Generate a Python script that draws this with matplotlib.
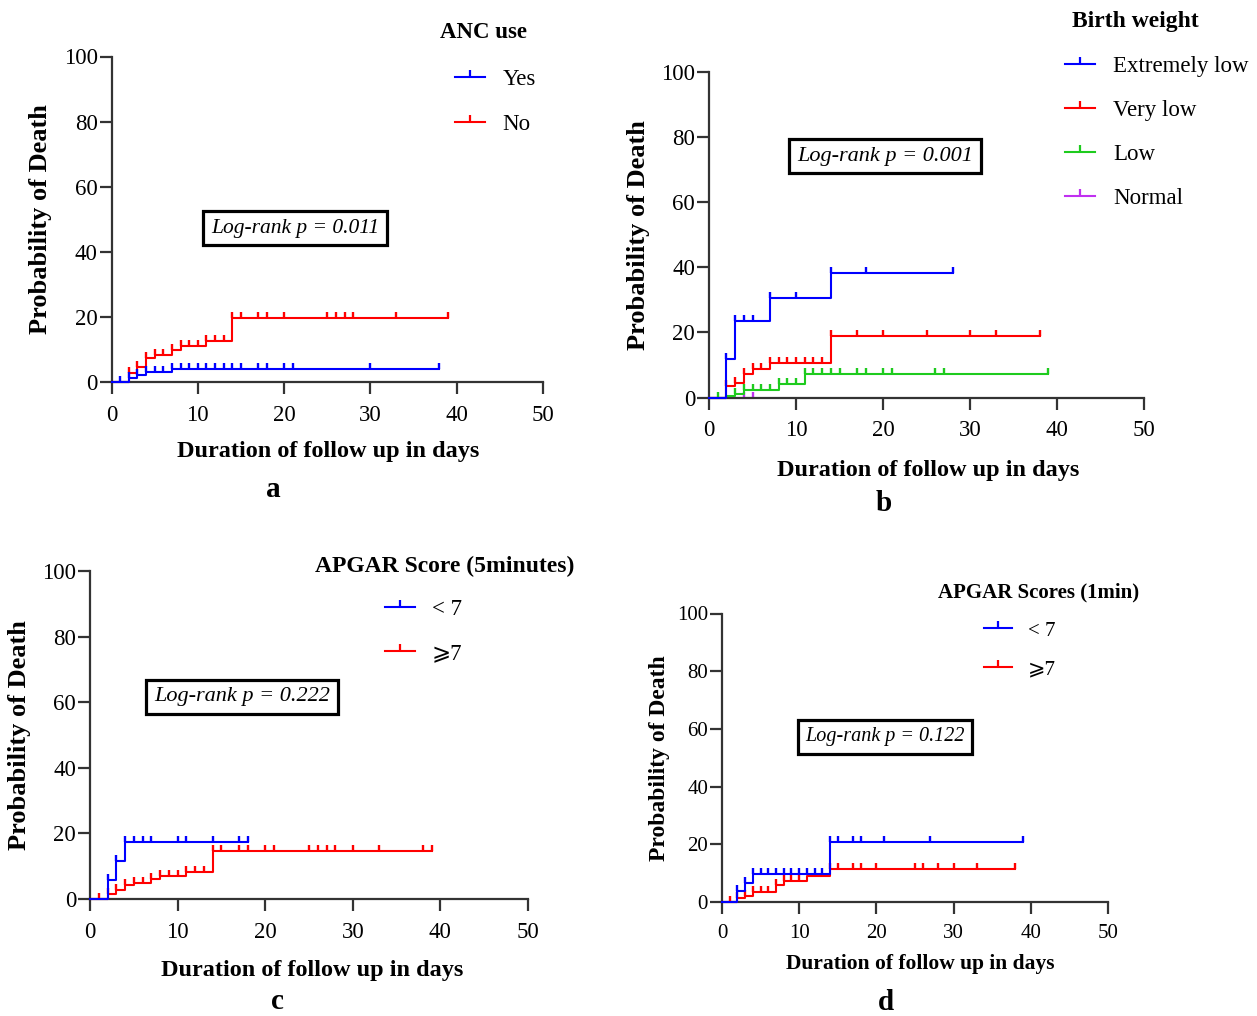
import numpy as np
import matplotlib
matplotlib.use("Agg")
import matplotlib.pyplot as plt
from matplotlib.lines import Line2D

plt.rcParams['font.family'] = ['Liberation Serif', 'DejaVu Sans']

W, H = 1257, 1016

BLUE, RED, GREEN, PURPLE = '#0000ff', '#ff0000', '#1ecb1e', '#c030f0'

# a: ANC use  (step times, cumulative % dead, censor times)
a_yes_t = [0, 2, 3, 4, 7, 38]
a_yes_y = [0, 1.2, 2.1, 3.0, 3.9, 3.9]
a_yes_cens = [1, 2, 3, 4, 5, 6, 7, 8, 9, 10, 11, 12, 13, 14, 15, 17, 18, 20, 21, 30, 38]
a_no_t = [0, 2, 3, 4, 5, 7, 8, 11, 14, 39]
a_no_y = [0, 2.8, 4.5, 7.4, 8.4, 9.9, 11.0, 12.6, 19.8, 19.8]
a_no_cens = [2, 3, 4, 5, 6, 7, 8, 9, 10, 11, 12, 13, 14, 15, 17, 18, 20, 25, 26, 27, 28, 33, 39]

# b: birth weight
b_ext_t = [0, 2, 3, 7, 14, 28]
b_ext_y = [0, 11.8, 23.6, 30.5, 38.3, 38.3]
b_ext_cens = [2, 3, 4, 5, 7, 10, 14, 18, 28]
b_vlow_t = [0, 2, 3, 4, 5, 7, 14, 38]
b_vlow_y = [0, 3.4, 4.6, 7.2, 8.7, 10.5, 19.0, 19.0]
b_vlow_cens = [2, 3, 4, 5, 6, 7, 8, 9, 10, 11, 12, 13, 14, 17, 20, 25, 30, 33, 38]
b_low_t = [0, 2, 3, 4, 8, 11, 39]
b_low_y = [0, 0.5, 1.0, 2.4, 4.1, 7.2, 7.2]
b_low_cens = [1, 3, 4, 5, 6, 7, 8, 9, 10, 11, 12, 13, 14, 15, 17, 18, 20, 21, 26, 27, 39]
b_norm_t = [0, 5]
b_norm_y = [0, 0]
b_norm_cens = [4, 5]

# c: APGAR 5 min
c_lt_t = [0, 2, 3, 4, 18]
c_lt_y = [0, 5.8, 11.7, 17.5, 17.5]
c_lt_cens = [2, 3, 4, 5, 6, 7, 10, 11, 14, 17, 18]
c_ge_t = [0, 2, 3, 4, 5, 7, 8, 11, 14, 39]
c_ge_y = [0, 1.4, 2.8, 4.2, 4.8, 6.0, 7.0, 8.3, 14.7, 14.7]
c_ge_cens = [1, 2, 3, 4, 5, 6, 7, 8, 9, 10, 11, 12, 13, 14, 15, 17, 18, 20, 21,
             25, 26, 27, 28, 30, 33, 38, 39]

# d: APGAR 1 min
d_lt_t = [0, 2, 3, 4, 14, 39]
d_lt_y = [0, 3.8, 6.7, 9.8, 20.8, 20.8]
d_lt_cens = [2, 3, 4, 5, 6, 7, 8, 9, 10, 11, 12, 13, 14, 15, 17, 18, 21, 27, 39]
d_ge_t = [0, 2, 3, 4, 7, 8, 11, 14, 38]
d_ge_y = [0, 1.3, 2.2, 3.6, 5.9, 7.4, 9.1, 11.6, 11.6]
d_ge_cens = [1, 2, 3, 4, 5, 6, 7, 8, 9, 10, 14, 15, 17, 18, 20, 25, 26, 28, 30, 33, 38]

pvals = ['0.011', '0.001', '0.222', '0.122']

fig = plt.figure(figsize=(W / 100, H / 100), dpi=100)


def px_rect(x0, x1, y_top, y_bot):
    return [x0 / W, 1 - y_bot / H, (x1 - x0) / W, (y_bot - y_top) / H]


def km(ax, t, y, cens, color, z):
    t = np.asarray(t, float)
    y = np.asarray(y, float)
    ax.step(t, y, where='post', color=color, lw=1.5, clip_on=False, zorder=z)
    idx = np.searchsorted(t, cens, side='right') - 1
    ax.plot(cens, y[idx], ls='none', marker=2, ms=4.5, mew=1.7, color=color,
            clip_on=False, zorder=z)


def setup(ax, fs, xpad):
    ax.set_xlim(0, 50)
    ax.set_ylim(0, 100)
    ax.set_xticks(range(0, 51, 10))
    ax.set_yticks(range(0, 101, 20))
    for s in ['top', 'right']:
        ax.spines[s].set_visible(False)
    for s in ['left', 'bottom']:
        ax.spines[s].set_linewidth(1.6)
        ax.spines[s].set_color('#333333')
    ax.tick_params(length=8.5, width=1.6, labelsize=fs, color='#333333')
    ax.tick_params(axis='x', pad=xpad)
    ax.tick_params(axis='y', pad=1.5)


def legend(ax, labels, colors, x, top, fs, hl, hp, ls):
    handles = [Line2D([0], [0], color=c, lw=1.5, marker=2, ms=5, mew=1.6) for c in colors]
    ax.legend(handles, labels, loc='upper left', bbox_to_anchor=(x / W, 1 - top / H),
              bbox_transform=fig.transFigure, frameon=False, borderpad=0,
              borderaxespad=0, handlelength=hl, handletextpad=hp, labelspacing=ls,
              fontsize=fs, numpoints=1)


def texts(title, tpos, tfs, p, ppos, pfs, xl, xpos, xfs, yl, ypos, yfs, letter, lpos):
    fig.text(tpos[0] / W, 1 - tpos[1] / H, title, ha='center', va='center',
             fontsize=tfs, fontweight='bold')
    fig.text(ppos[0] / W, 1 - ppos[1] / H, 'Log-rank p = ' + p, ha='center', va='center',
             fontsize=pfs, style='italic',
             bbox=dict(boxstyle='square,pad=0.35', fc='white', ec='black', lw=2.3))
    fig.text(xpos[0] / W, 1 - xpos[1] / H, xl, ha='center', va='baseline',
             fontsize=xfs, fontweight='bold')
    fig.text(ypos[0] / W, 1 - ypos[1] / H, yl, ha='center', va='center', rotation=90,
             fontsize=yfs, fontweight='bold')
    fig.text(lpos[0] / W, 1 - lpos[1] / H, letter, ha='center', va='baseline',
             fontsize=21, fontweight='bold')


XL = 'Duration of follow up in days'
YL = 'Probability of Death'

# panel a
ax = fig.add_axes(px_rect(111.5, 543, 56.5, 382))
setup(ax, 16.5, 8)
km(ax, a_no_t, a_no_y, a_no_cens, RED, 3)
km(ax, a_yes_t, a_yes_y, a_yes_cens, BLUE, 4)
legend(ax, ['Yes', 'No'], [BLUE, RED], 455, 69, 16.5, 1.3, 0.78, 1.05)
texts('ANC use', (483, 33), 16.5, pvals[0], (295, 228), 15.5, XL, (328, 457), 17.5,
      YL, (41, 219), 19, 'a', (273, 497))

# panel b
ax = fig.add_axes(px_rect(709, 1144, 72, 397.5))
setup(ax, 16.5, 8)
km(ax, b_norm_t, b_norm_y, b_norm_cens, PURPLE, 2)
km(ax, b_low_t, b_low_y, b_low_cens, GREEN, 3)
km(ax, b_vlow_t, b_vlow_y, b_vlow_cens, RED, 4)
km(ax, b_ext_t, b_ext_y, b_ext_cens, BLUE, 5)
legend(ax, ['Extremely low', 'Very low', 'Low', 'Normal'], [BLUE, RED, GREEN, PURPLE],
       1065, 56, 16.5, 1.31, 0.79, 1.0)
texts('Birth weight', (1135, 22), 17, pvals[1], (885, 156), 16, XL, (928, 476), 17.5,
      YL, (638, 235), 19, 'b', (884, 511))

# panel c
ax = fig.add_axes(px_rect(90, 528, 571, 899))
setup(ax, 16.5, 8)
km(ax, c_ge_t, c_ge_y, c_ge_cens, RED, 3)
km(ax, c_lt_t, c_lt_y, c_lt_cens, BLUE, 4)
legend(ax, ['< 7', '\u2a7e7'], [BLUE, RED], 385, 599, 16.5, 1.31, 0.74, 0.99)
texts('APGAR Score (5minutes)', (445, 566), 17, pvals[2], (242, 697), 16, XL, (312, 976), 17.5,
      YL, (20, 735), 19, 'c', (277, 1009))

# panel d
ax = fig.add_axes(px_rect(722, 1108, 613.5, 902))
setup(ax, 15, 7)
km(ax, d_ge_t, d_ge_y, d_ge_cens, RED, 3)
km(ax, d_lt_t, d_lt_y, d_lt_cens, BLUE, 4)
legend(ax, ['< 7', '\u2a7e7'], [BLUE, RED], 984, 621, 15, 1.35, 0.77, 0.92)
texts('APGAR Scores (1min)', (1039, 592), 15, pvals[3], (885, 737), 14.5, XL, (920, 969), 15.5,
      YL, (659, 758), 17, 'd', (886, 1010))

fig.savefig('out.png', dpi=100)
